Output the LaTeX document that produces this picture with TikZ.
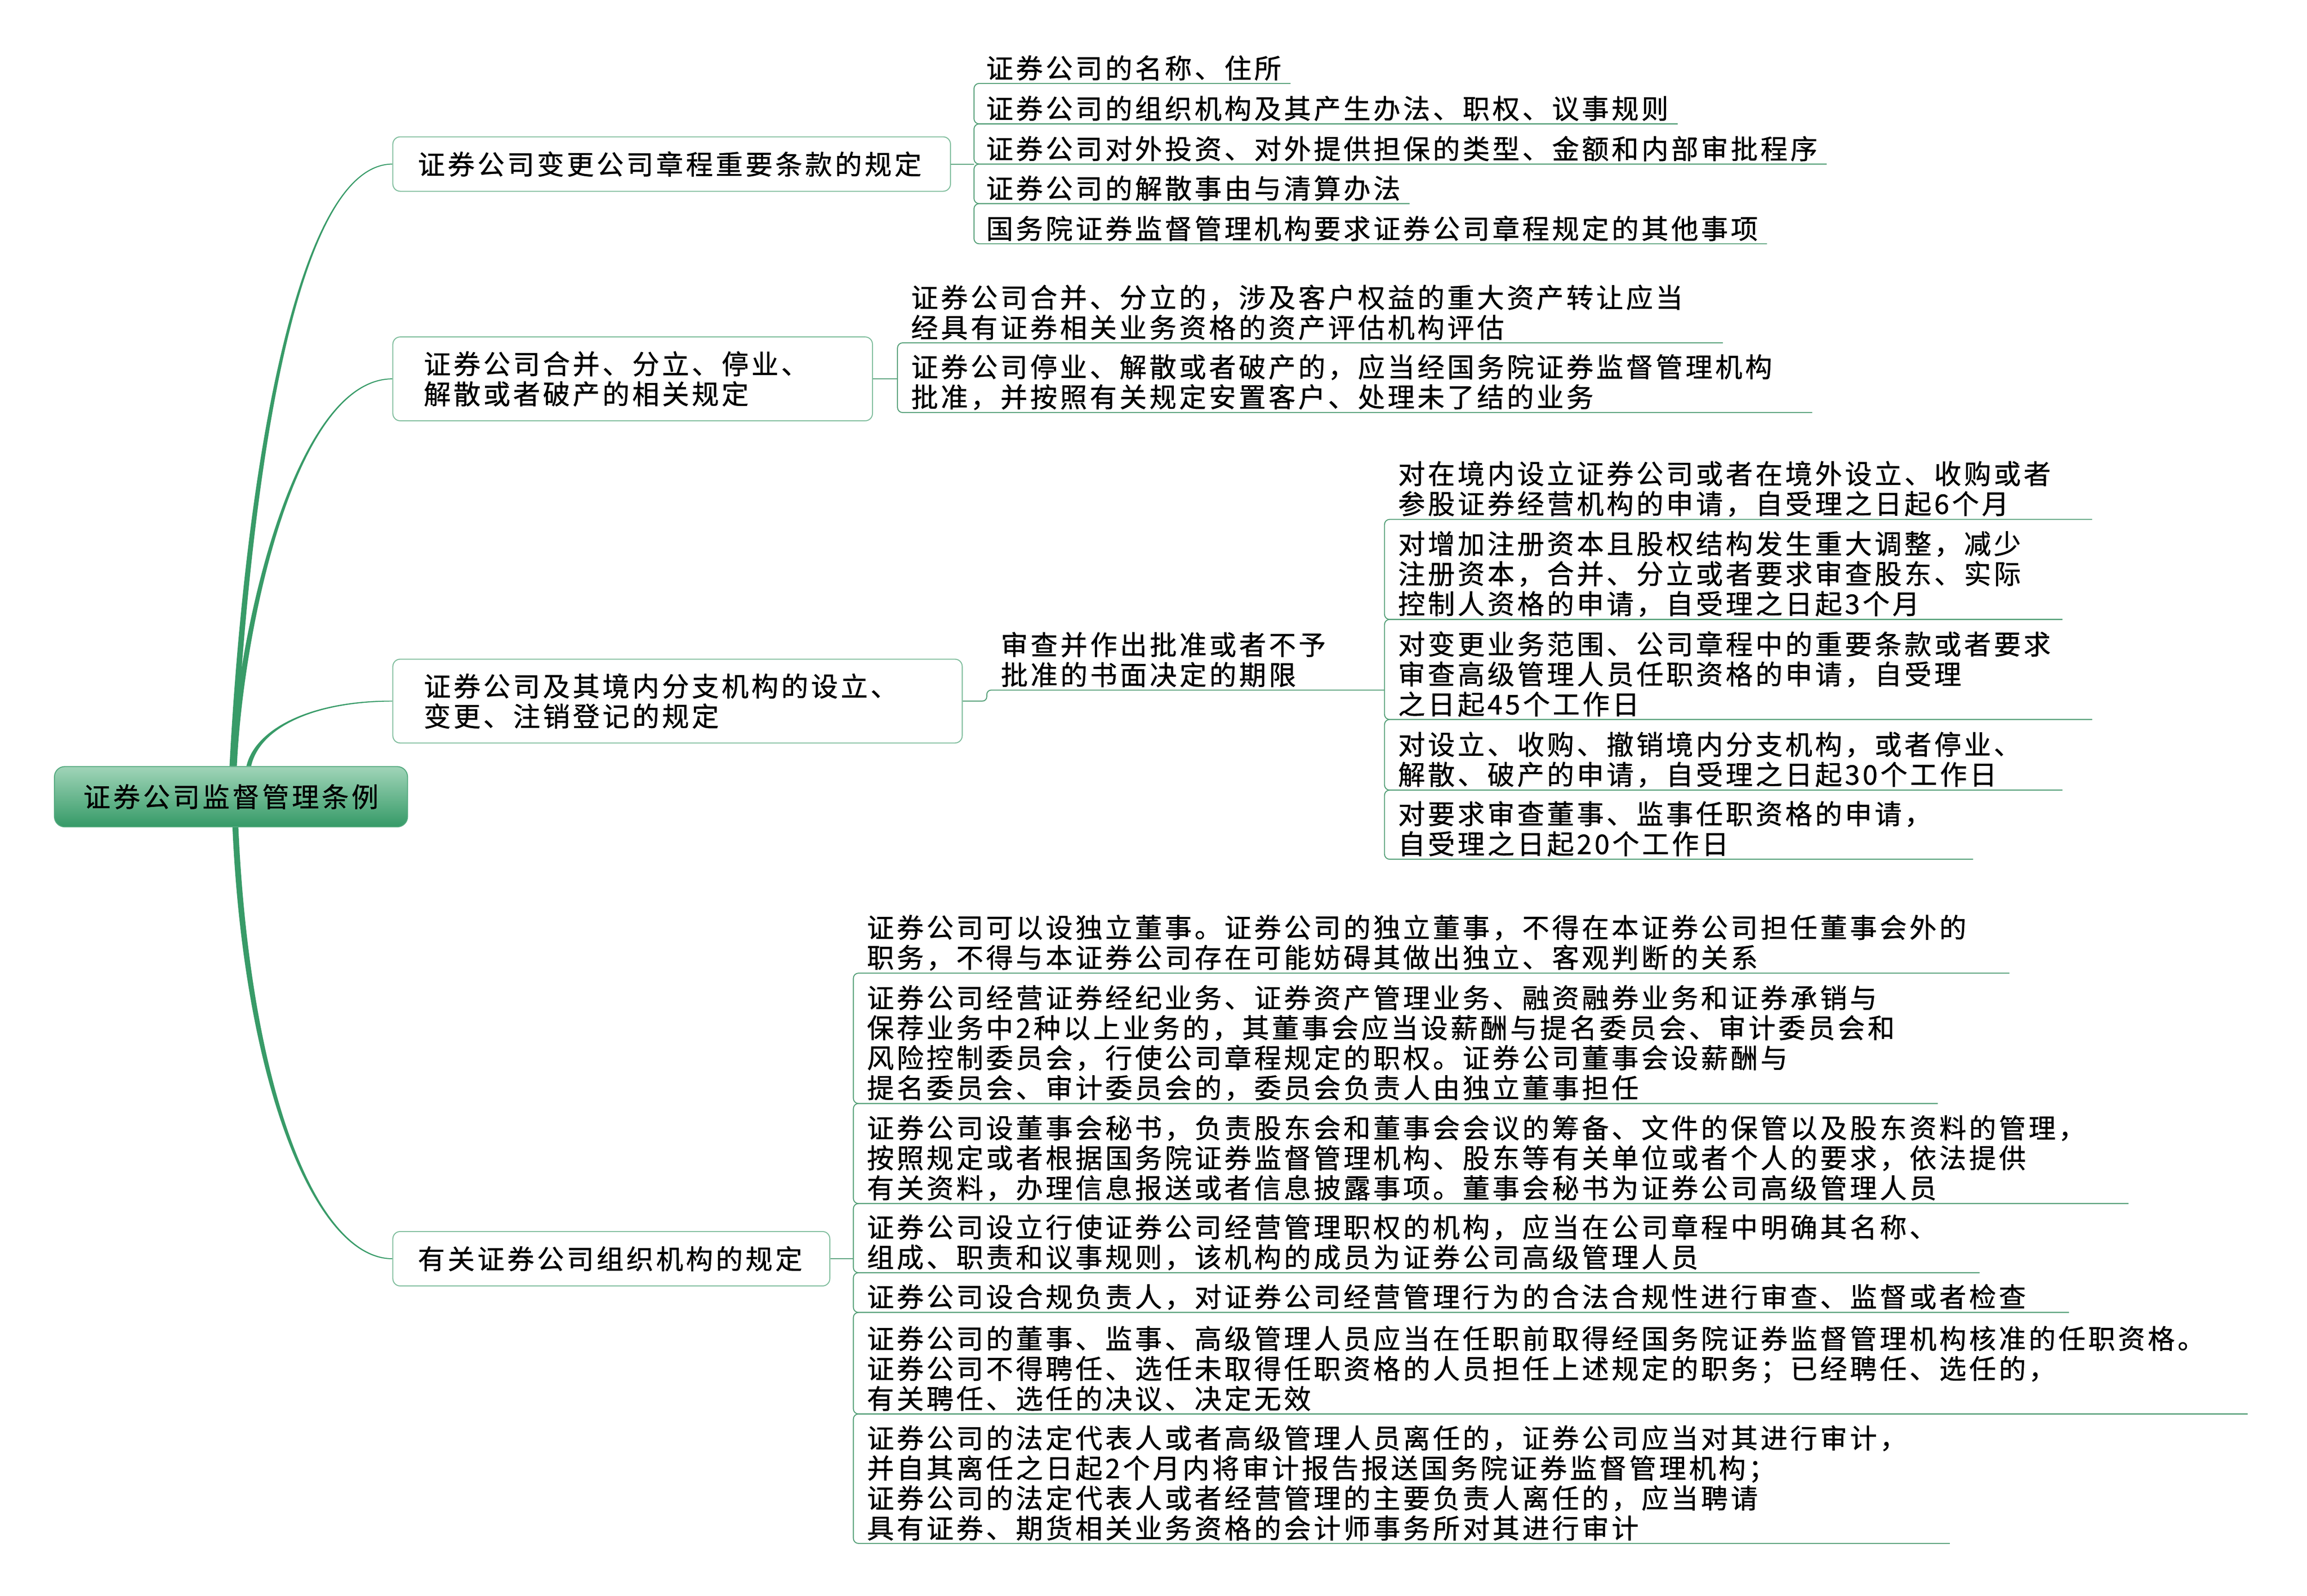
\documentclass[tikz,border=0pt]{standalone}
\usepackage{fontspec}
\usetikzlibrary{backgrounds}
\newfontfamily\cjkf[LetterSpace=10,FakeBold=0.8]{Noto Sans CJK SC}
\newlength\uu
\setlength\uu{0.032277cm}
\newcommand\mmfont{\cjkf\fontsize{16.9pt}{18.73pt}\selectfont}
\definecolor{trunkc}{RGB}{56,155,104}
\definecolor{ulinec}{RGB}{82,158,118}
\definecolor{bborder}{RGB}{125,188,155}
\definecolor{rootlight}{RGB}{160,212,184}
\definecolor{rootgreen}{RGB}{53,154,103}
\tikzset{
  leaftext/.style={inner sep=0pt, anchor=west, align=left, font=\mmfont},
  branchbox/.style={draw=bborder, line width=0.6pt, fill=white, rounded corners=5\uu, align=left, font=\mmfont, inner ysep=0pt},
  rootbox/.style={draw=rootgreen!85!white, line width=0.6pt, rounded corners=7\uu, top color=rootlight, middle color=rootgreen, bottom color=rootgreen, font=\mmfont, minimum width=240\uu, minimum height=41\uu, inner sep=0pt},
  ulinestyle/.style={draw=ulinec, line width=0.6pt},
  trunkfill/.style={fill=trunkc}
}
% #1 previous item, #2 its underline y, #3 this item, #4 its underline y, #5 bracket x, #6 underline padding
\newcommand\mmUnderBox[6]{%
  \path ([xshift=#6\uu]#1.east) coordinate (mmra) ([xshift=#6\uu]#3.east) coordinate (mmrb);
  \draw[ulinestyle,rounded corners=3.5\uu] (mmra |- #5,#2) -- (#5,#2) -- (#5,#4) -- (mmrb |- #5,#4);
}
\begin{document}
\begin{tikzpicture}[x=0.032277cm,y=-0.032277cm]
\useasboundingbox (0,0) rectangle (1568,1084.6);

% root and branches
\node[rootbox] (root) at (157,541.5) {证券公司监督管理条例};
\node[branchbox, inner xsep=17\uu, text width=345\uu, minimum height=37\uu] (b1) at (456.5,111.5) {证券公司变更公司章程重要条款的规定};
\node[branchbox, inner xsep=21\uu, text width=284\uu, minimum height=57\uu] (b2) at (430,257.5) {证券公司合并、分立、停业、\\解散或者破产的相关规定};
\node[branchbox, inner xsep=21\uu, text width=345\uu, minimum height=57\uu] (b3) at (460.5,476.5) {证券公司及其境内分支机构的设立、\\变更、注销登记的规定};
\node[branchbox, inner xsep=17\uu, text width=263\uu, minimum height=37\uu] (b4) at (415.5,855.5) {有关证券公司组织机构的规定};

% tapered main connectors, behind the boxes
\begin{scope}[on background layer]
\fill[white] (0,0) rectangle (1568,1084.6);
\fill[trunkfill] ([xshift=-1.0\uu]root.north) .. controls (166,330) and (200,111) .. ([yshift=0.3\uu]b1.west) -- ([yshift=-0.3\uu]b1.west) .. controls (200,112.6) and (170,330) .. ([xshift=3.0\uu]root.north) -- cycle;
\fill[trunkfill] ([xshift=0.0\uu]root.north) .. controls (161,430) and (200,256.7) .. ([yshift=0.3\uu]b2.west) -- ([yshift=-0.3\uu]b2.west) .. controls (200,258.3) and (165,430) .. ([xshift=4.0\uu]root.north) -- cycle;
\fill[trunkfill] ([xshift=10.5\uu]root.north) .. controls (173.5,495) and (212,475.9) .. ([yshift=0.3\uu]b3.west) -- ([yshift=-0.3\uu]b3.west) .. controls (212,477.1) and (176.5,495) .. ([xshift=13.7\uu]root.north) -- cycle;
\fill[trunkfill] ([xshift=1.0\uu]root.south) .. controls (166,740) and (215,856.3) .. ([yshift=-0.3\uu]b4.west) -- ([yshift=0.3\uu]b4.west) .. controls (215,854.7) and (170,740) .. ([xshift=5.0\uu]root.south) -- cycle;
\end{scope}

% group 1
\coordinate (g1) at (662,111.5);
\draw[ulinestyle] (b1.east) -- (g1);
\node[leaftext] (g1a) at (670,46.2) {证券公司的名称、住所};
\node[leaftext] (g1b) at (670,73.7) {证券公司的组织机构及其产生办法、职权、议事规则};
\node[leaftext] (g1c) at (670,101) {证券公司对外投资、对外提供担保的类型、金额和内部审批程序};
\node[leaftext] (g1d) at (670,127.9) {证券公司的解散事由与清算办法};
\node[leaftext] (g1e) at (670,155.2) {国务院证券监督管理机构要求证券公司章程规定的其他事项};
\mmUnderBox{g1a}{56.7}{g1b}{84.2}{662}{6}
\mmUnderBox{g1b}{84.2}{g1c}{111.5}{662}{6}
\mmUnderBox{g1c}{111.5}{g1d}{138.4}{662}{6}
\mmUnderBox{g1d}{138.4}{g1e}{165.7}{662}{6}

% group 2
\coordinate (g2) at (610,257.5);
\draw[ulinestyle] (b2.east) -- (g2);
\node[leaftext] (g2a) at (619,212.3) {证券公司合并、分立的，涉及客户权益的重大资产转让应当\\经具有证券相关业务资格的资产评估机构评估};
\node[leaftext] (g2b) at (619,259.7) {证券公司停业、解散或者破产的，应当经国务院证券监督管理机构\\批准，并按照有关规定安置客户、处理未了结的业务};
\mmUnderBox{g2a}{233}{g2b}{280.4}{610}{27}

% group 3
\coordinate (g3) at (941,469);
\node[leaftext] (sub3) at (680,448.3) {审查并作出批准或者不予\\批准的书面决定的期限};
\draw[ulinestyle, rounded corners=3\uu] (b3.east) -- (670.7,476.5) -- (670.7,469) -- (g3);
\node[leaftext] (g3a) at (950,332.3) {对在境内设立证券公司或者在境外设立、收购或者\\参股证券经营机构的申请，自受理之日起6个月};
\node[leaftext] (g3b) at (950,390.1) {对增加注册资本且股权结构发生重大调整，减少\\注册资本，合并、分立或者要求审查股东、实际\\控制人资格的申请，自受理之日起3个月};
\node[leaftext] (g3c) at (950,458.1) {对变更业务范围、公司章程中的重要条款或者要求\\审查高级管理人员任职资格的申请，自受理\\之日起45个工作日};
\node[leaftext] (g3d) at (950,516.3) {对设立、收购、撤销境内分支机构，或者停业、\\解散、破产的申请，自受理之日起30个工作日};
\node[leaftext] (g3e) at (950,563.3) {对要求审查董事、监事任职资格的申请，\\自受理之日起20个工作日};
\mmUnderBox{g3a}{353}{g3b}{421}{941}{28}
\mmUnderBox{g3b}{421}{g3c}{489}{941}{28}
\mmUnderBox{g3c}{489}{g3d}{537}{941}{28}
\mmUnderBox{g3d}{537}{g3e}{584}{941}{28}

% group 4
\coordinate (g4) at (580,855.5);
\draw[ulinestyle] (b4.east) -- (g4);
\node[leaftext] (g4a) at (589,640.7) {证券公司可以设独立董事。证券公司的独立董事，不得在本证券公司担任董事会外的\\职务，不得与本证券公司存在可能妨碍其做出独立、客观判断的关系};
\node[leaftext] (g4b) at (589,708.9) {证券公司经营证券经纪业务、证券资产管理业务、融资融券业务和证券承销与\\保荐业务中2种以上业务的，其董事会应当设薪酬与提名委员会、审计委员会和\\风险控制委员会，行使公司章程规定的职权。证券公司董事会设薪酬与\\提名委员会、审计委员会的，委员会负责人由独立董事担任};
\node[leaftext] (g4c) at (589,787.1) {证券公司设董事会秘书，负责股东会和董事会会议的筹备、文件的保管以及股东资料的管理，\\按照规定或者根据国务院证券监督管理机构、股东等有关单位或者个人的要求，依法提供\\有关资料，办理信息报送或者信息披露事项。董事会秘书为证券公司高级管理人员};
\node[leaftext] (g4d) at (589,844.3) {证券公司设立行使证券公司经营管理职权的机构，应当在公司章程中明确其名称、\\组成、职责和议事规则，该机构的成员为证券公司高级管理人员};
\node[leaftext] (g4e) at (589,881.5) {证券公司设合规负责人，对证券公司经营管理行为的合法合规性进行审查、监督或者检查};
\node[leaftext] (g4f) at (589,930.1) {证券公司的董事、监事、高级管理人员应当在任职前取得经国务院证券监督管理机构核准的任职资格。\\证券公司不得聘任、选任未取得任职资格的人员担任上述规定的职务；已经聘任、选任的，\\有关聘任、选任的决议、决定无效};
\node[leaftext] (g4g) at (589,1007.9) {证券公司的法定代表人或者高级管理人员离任的，证券公司应当对其进行审计，\\并自其离任之日起2个月内将审计报告报送国务院证券监督管理机构；\\证券公司的法定代表人或者经营管理的主要负责人离任的，应当聘请\\具有证券、期货相关业务资格的会计师事务所对其进行审计};
\mmUnderBox{g4a}{661.4}{g4b}{750}{580}{29}
\mmUnderBox{g4b}{750}{g4c}{818}{580}{29}
\mmUnderBox{g4c}{818}{g4d}{865}{580}{29}
\mmUnderBox{g4d}{865}{g4e}{892}{580}{29}
\mmUnderBox{g4e}{892}{g4f}{961}{580}{29}
\mmUnderBox{g4f}{961}{g4g}{1049}{580}{29}
\end{tikzpicture}
\end{document}
